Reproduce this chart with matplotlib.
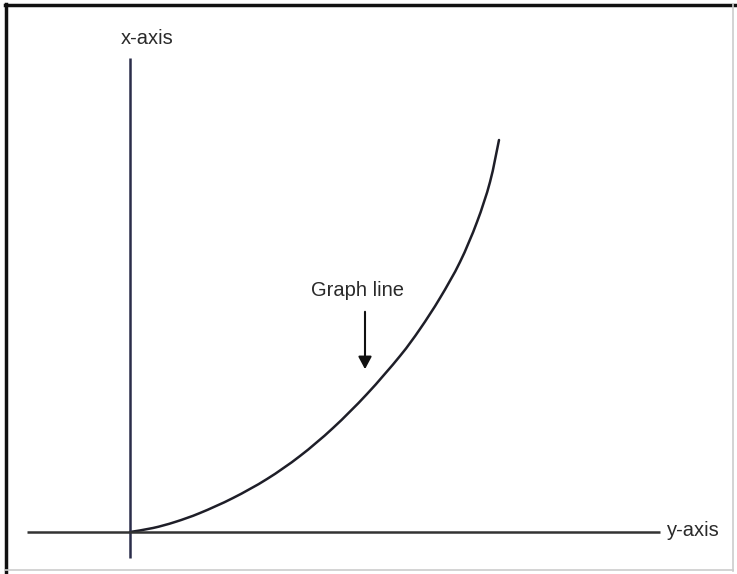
import numpy as np
import matplotlib.pyplot as plt
from matplotlib.lines import Line2D
from matplotlib.path import Path
from matplotlib.patches import PathPatch

plt.rcParams['font.family'] = ['Liberation Sans', 'DejaVu Sans']

# points along the graph line, origin at the axes crossing
curve_x = [0, 23, 45, 70, 103, 137, 170, 203, 237, 270, 290, 310, 330, 347, 360, 369]
curve_y = [0, 4, 10, 19, 34, 53, 76, 104, 138, 176, 203, 234, 270, 310, 350, 392]

vert_label = 'x-axis'
horiz_label = 'y-axis'
note_label = 'Graph line'


def smooth_path(xs, ys):
    # bezier path through every point (catmull-rom tangents)
    pts = np.column_stack([xs, ys]).astype(float)
    padded = np.vstack([pts[0], pts, pts[-1]])
    verts = [pts[0]]
    codes = [Path.MOVETO]
    for i in range(1, len(padded) - 2):
        p0, p1, p2, p3 = padded[i - 1], padded[i], padded[i + 1], padded[i + 2]
        verts += [p1 + (p2 - p0) / 6, p2 - (p3 - p1) / 6, p2]
        codes += [Path.CURVE4] * 3
    return Path(verts, codes)


fig = plt.figure(figsize=(7.37, 5.74), dpi=100)
ax = fig.add_axes([0, 0, 1, 1])
ax.set_xlim(-130, 607)
ax.set_ylim(-42, 532)
ax.axis('off')

# axes lines
ax.plot([0, 0], [-26, 474], color='#2b2d4a', lw=1.8, solid_capstyle='butt')
ax.plot([-103, 530], [0, 0], color='#333333', lw=1.8, solid_capstyle='butt')

# the curve
ax.add_patch(PathPatch(smooth_path(curve_x, curve_y), fill=False,
                       edgecolor='#1e1e28', lw=1.8, capstyle='round'))

ax.text(17, 494, vert_label, ha='center', va='center', fontsize=14.5, color='#2a2a2a')
ax.text(537, 2, horiz_label, ha='left', va='center', fontsize=14.5, color='#2a2a2a')
ax.text(228, 241, note_label, ha='center', va='center', fontsize=14.5, color='#2a2a2a')

ax.annotate('', xy=(235, 160), xytext=(235, 223),
            arrowprops=dict(arrowstyle='-|>,head_length=0.75,head_width=0.4',
                            color='#111111', lw=1.5))

# frame: heavy on top/left, light on right/bottom
w, h = 737, 574
fig.add_artist(Line2D([5 / w, 737 / w], [1 - 4.5 / h, 1 - 4.5 / h], color='#111111', lw=2.5,
                      transform=fig.transFigure))
fig.add_artist(Line2D([5.5 / w, 5.5 / w], [1 - 4 / h, 1 - 572 / h], color='#111111', lw=2.5,
                      transform=fig.transFigure))
fig.add_artist(Line2D([733 / w, 733 / w], [1 - 4 / h, 1 - 571 / h], color='#cccccc', lw=1.2,
                      transform=fig.transFigure))
fig.add_artist(Line2D([5 / w, 733 / w], [1 - 570 / h, 1 - 570 / h], color='#cccccc', lw=1.2,
                      transform=fig.transFigure))

fig.savefig('out.png', dpi=100)
plt.close()
